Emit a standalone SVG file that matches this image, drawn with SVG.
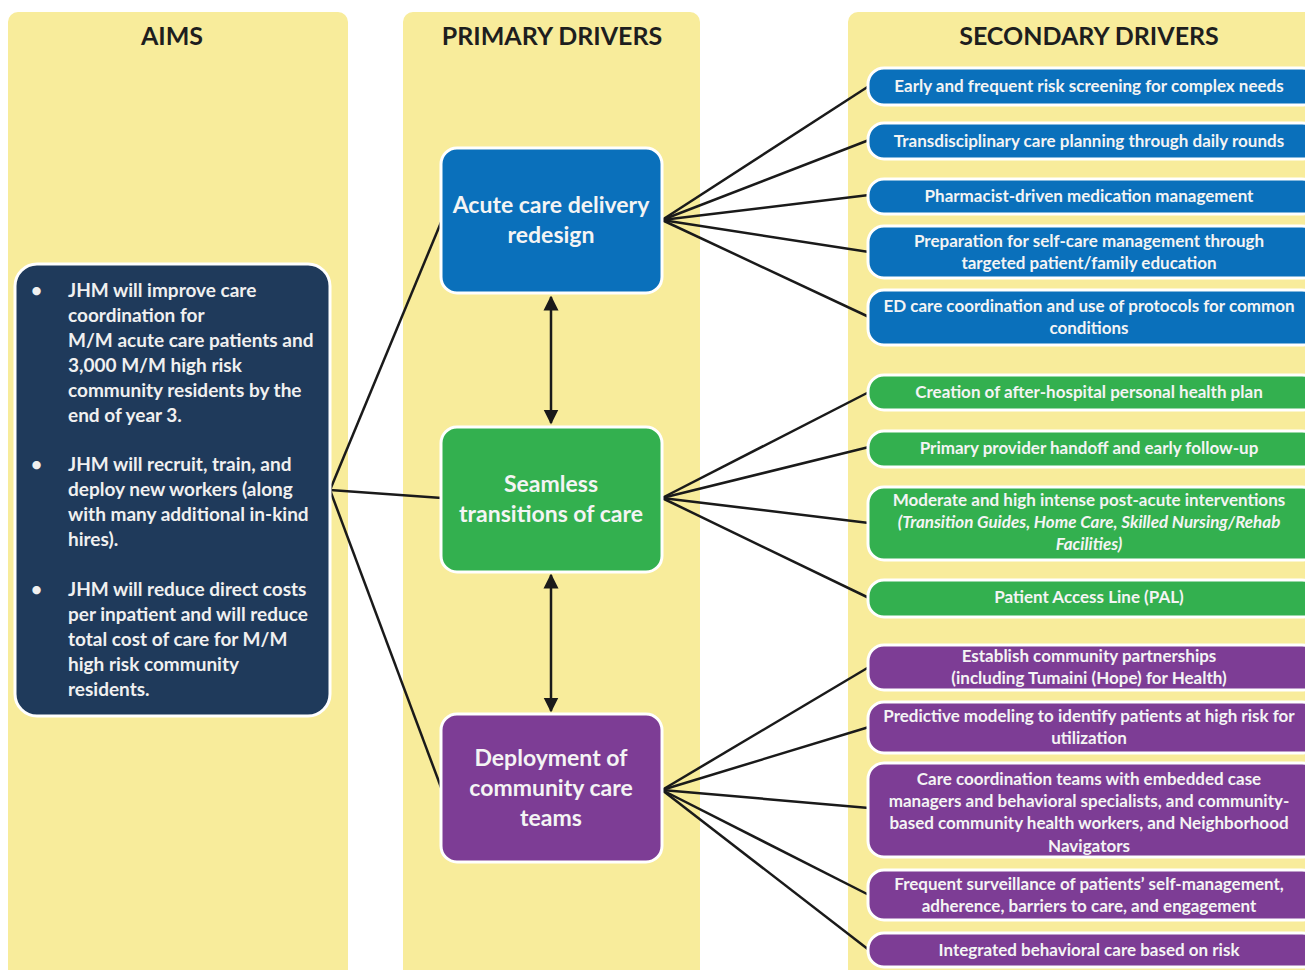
<svg xmlns="http://www.w3.org/2000/svg" width="1305" height="970" viewBox="0 0 1305 970">
<defs>
<marker id="ah" viewBox="0 0 10 10" refX="9" refY="5" markerWidth="6" markerHeight="6.5" orient="auto-start-reverse" markerUnits="strokeWidth">
<path d="M0,0 L10,5 L0,10 z" fill="#1a1a1a"/>
</marker>
</defs>
<style>
.col{fill:#f8ec9b}
.hdr{font-family:Lato,"Liberation Sans",sans-serif;font-weight:bold;font-size:25px;fill:#1e1e1e;text-anchor:middle}
.pt{font-family:Lato,"Liberation Sans",sans-serif;font-weight:bold;font-size:23px;fill:#f4f4f4;text-anchor:middle}
.st{font-family:Lato,"Liberation Sans",sans-serif;font-weight:bold;font-size:17px;fill:#f4f4f4;text-anchor:middle}
.at{font-family:Lato,"Liberation Sans",sans-serif;font-weight:bold;font-size:19px;fill:#f0f0f0}
.blue{fill:#0a70bb;stroke:#ffffff;stroke-width:3}
.green{fill:#33b04f;stroke:#ffffff;stroke-width:3}
.purple{fill:#7d3d95;stroke:#ffffff;stroke-width:3}
.navy{fill:#1f3a5b;stroke:#ffffff;stroke-width:3}
.ln{stroke:#1a1a1a;stroke-width:2.5;fill:none}
.dbl{stroke:#1a1a1a;stroke-width:2.5;fill:none;marker-start:url(#ah);marker-end:url(#ah)}
</style>
<rect width="1305" height="970" fill="#ffffff"/>
<g id="columns">
<rect class="col" x="8" y="12" width="340" height="975" rx="10"/>
<rect class="col" x="403" y="12" width="297" height="975" rx="10"/>
<rect class="col" x="848" y="12" width="470" height="975" rx="10"/>
<text class="hdr" x="172" y="45">AIMS</text>
<text class="hdr" x="552" y="45">PRIMARY DRIVERS</text>
<text class="hdr" x="1089" y="45">SECONDARY DRIVERS</text>
</g>
<g id="connectors">
<line class="ln" x1="330" y1="490" x2="442" y2="220"/>
<line class="ln" x1="330" y1="490" x2="442" y2="498"/>
<line class="ln" x1="330" y1="490" x2="442" y2="790"/>
<line class="ln" x1="662" y1="220" x2="869" y2="86"/>
<line class="ln" x1="662" y1="220" x2="869" y2="140"/>
<line class="ln" x1="662" y1="220" x2="869" y2="195"/>
<line class="ln" x1="662" y1="220" x2="869" y2="252"/>
<line class="ln" x1="662" y1="220" x2="869" y2="317"/>
<line class="ln" x1="662" y1="498" x2="869" y2="392"/>
<line class="ln" x1="662" y1="498" x2="869" y2="447"/>
<line class="ln" x1="662" y1="498" x2="869" y2="523"/>
<line class="ln" x1="662" y1="498" x2="869" y2="598"/>
<line class="ln" x1="662" y1="790" x2="869" y2="667"/>
<line class="ln" x1="662" y1="790" x2="869" y2="727"/>
<line class="ln" x1="662" y1="790" x2="869" y2="808"/>
<line class="ln" x1="662" y1="790" x2="869" y2="895"/>
<line class="ln" x1="662" y1="790" x2="869" y2="950"/>
<line class="dbl" x1="551" y1="297" x2="551" y2="423"/>
<line class="dbl" x1="551" y1="575" x2="551" y2="711"/>
</g>
<g id="aims">
<rect class="navy" x="15" y="264" width="315" height="452" rx="22"/>
<text class="at"><tspan x="31" y="297">•</tspan><tspan x="68" y="297">JHM will improve care</tspan><tspan x="68" y="322">coordination for</tspan><tspan x="68" y="347">M/M acute care patients and</tspan><tspan x="68" y="372">3,000 M/M high risk</tspan><tspan x="68" y="397">community residents by the</tspan><tspan x="68" y="422">end of year 3.</tspan></text>
<text class="at"><tspan x="31" y="471">•</tspan><tspan x="68" y="471">JHM will recruit, train, and</tspan><tspan x="68" y="496">deploy new workers (along</tspan><tspan x="68" y="521">with many additional in-kind</tspan><tspan x="68" y="546">hires).</tspan></text>
<text class="at"><tspan x="31" y="596">•</tspan><tspan x="68" y="596">JHM will reduce direct costs</tspan><tspan x="68" y="621">per inpatient and will reduce</tspan><tspan x="68" y="646">total cost of care for M/M</tspan><tspan x="68" y="671">high risk community</tspan><tspan x="68" y="696">residents.</tspan></text>
</g>
<g id="p-acute">
<rect class="blue" x="441" y="148" width="221" height="145" rx="16"/>
<text class="pt"><tspan x="551" y="213">Acute care delivery</tspan><tspan x="551" y="243">redesign</tspan></text>
</g>
<g id="p-seamless">
<rect class="green" x="441" y="427" width="221" height="145" rx="16"/>
<text class="pt"><tspan x="551" y="492">Seamless</tspan><tspan x="551" y="522">transitions of care</tspan></text>
</g>
<g id="p-community">
<rect class="purple" x="441" y="714" width="221" height="148" rx="16"/>
<text class="pt"><tspan x="551" y="766">Deployment of</tspan><tspan x="551" y="796">community care</tspan><tspan x="551" y="826">teams</tspan></text>
</g>
<g id="s1">
<rect class="blue" x="868" y="68" width="450" height="37" rx="16"/>
<text class="st" x="1089" y="92">Early and frequent risk screening for complex needs</text>
</g>
<g id="s2">
<rect class="blue" x="868" y="123" width="450" height="36" rx="16"/>
<text class="st" x="1089" y="147">Transdisciplinary care planning through daily rounds</text>
</g>
<g id="s3">
<rect class="blue" x="868" y="179" width="450" height="35" rx="16"/>
<text class="st" x="1089" y="202">Pharmacist-driven medication management</text>
</g>
<g id="s4">
<rect class="blue" x="868" y="226" width="450" height="52" rx="16"/>
<text class="st"><tspan x="1089" y="247">Preparation for self-care management through</tspan><tspan x="1089" y="269">targeted patient/family education</tspan></text>
</g>
<g id="s5">
<rect class="blue" x="868" y="290" width="450" height="55" rx="16"/>
<text class="st"><tspan x="1089" y="312">ED care coordination and use of protocols for common</tspan><tspan x="1089" y="334">conditions</tspan></text>
</g>
<g id="s6">
<rect class="green" x="868" y="375" width="450" height="35" rx="16"/>
<text class="st" x="1089" y="398">Creation of after-hospital personal health plan</text>
</g>
<g id="s7">
<rect class="green" x="868" y="431" width="450" height="36" rx="16"/>
<text class="st" x="1089" y="454">Primary provider handoff and early follow-up</text>
</g>
<g id="s8">
<rect class="green" x="868" y="487" width="450" height="73" rx="16"/>
<text class="st"><tspan x="1089" y="506">Moderate and high intense post-acute interventions</tspan><tspan x="1089" y="528" font-style="italic">(Transition Guides, Home Care, Skilled Nursing/Rehab</tspan><tspan x="1089" y="550" font-style="italic">Facilities)</tspan></text>
</g>
<g id="s9">
<rect class="green" x="868" y="580" width="450" height="37" rx="16"/>
<text class="st" x="1089" y="603">Patient Access Line (PAL)</text>
</g>
<g id="s10">
<rect class="purple" x="868" y="645" width="450" height="45" rx="16"/>
<text class="st"><tspan x="1089" y="662">Establish community partnerships</tspan><tspan x="1089" y="684">(including Tumaini (Hope) for Health)</tspan></text>
</g>
<g id="s11">
<rect class="purple" x="868" y="702" width="450" height="51" rx="16"/>
<text class="st"><tspan x="1089" y="722">Predictive modeling to identify patients at high risk for</tspan><tspan x="1089" y="744">utilization</tspan></text>
</g>
<g id="s12">
<rect class="purple" x="868" y="763" width="450" height="94" rx="16"/>
<text class="st"><tspan x="1089" y="785">Care coordination teams with embedded case</tspan><tspan x="1089" y="807">managers and behavioral specialists, and community-</tspan><tspan x="1089" y="829">based community health workers, and Neighborhood</tspan><tspan x="1089" y="852">Navigators</tspan></text>
</g>
<g id="s13">
<rect class="purple" x="868" y="870" width="450" height="50" rx="16"/>
<text class="st"><tspan x="1089" y="890">Frequent surveillance of patients’ self-management,</tspan><tspan x="1089" y="912">adherence, barriers to care, and engagement</tspan></text>
</g>
<g id="s14">
<rect class="purple" x="868" y="933" width="450" height="34" rx="16"/>
<text class="st" x="1089" y="956">Integrated behavioral care based on risk</text>
</g>
</svg>
